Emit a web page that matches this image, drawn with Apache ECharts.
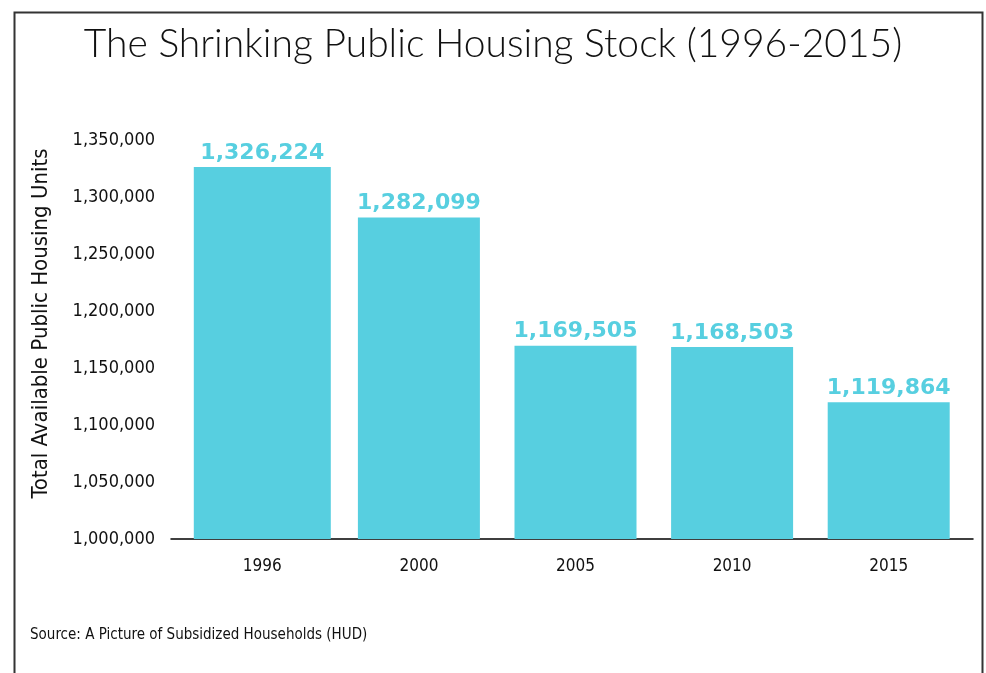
<!DOCTYPE html>
<html>
<head>
<meta charset="utf-8">
<script src="https://cdn.jsdelivr.net/npm/echarts@6/dist/echarts.min.js"></script>
<style>
html,body{margin:0;padding:0;background:#fff;}
#c{width:986px;height:673px;}
</style>
</head>
<body>
<div id="c"></div>
<script>
var categories = ['1996', '2000', '2005', '2010', '2015'];
var units = [1326224, 1282099, 1169505, 1168503, 1119864];
var yTicks = { min: 1000000, max: 1350000, interval: 50000 };
var titleText = 'The Shrinking Public Housing Stock (1996-2015)';
var yName = 'Total Available Public Housing Units';
var sourceText = 'Source: A Picture of Subsidized Households (HUD)';

var narrow = '"Liberation Sans Narrow", "DejaVu Sans Condensed", "Roboto", sans-serif';
var barColor = '#57cfe0';

function fmt(v) { return v.toString().replace(/\B(?=(\d{3})+(?!\d))/g, ','); }

var firstData = units.map(function (v, i) { return i === 0 ? v : '-'; });
var restData = units.map(function (v, i) { return i === 0 ? '-' : v; });

var labelCfg = {
  show: true, position: 'top', distance: 3,
  color: barColor, fontFamily: '"DejaVu Sans", sans-serif', fontWeight: 900, fontSize: 22,
  formatter: function (p) { return fmt(p.value); }
};

var chart = echarts.init(document.getElementById('c'), null, { renderer: 'canvas' });
chart.setOption({
  animation: false,
  backgroundColor: '#fff',
  title: {
    text: titleText, left: 'center', top: 20,
    textStyle: { fontFamily: 'Lato, "Noto Sans", sans-serif', fontWeight: 300, fontSize: 39, color: '#111' }
  },
  graphic: [
    { type: 'rect', left: 12, top: 10, shape: { width: 968, height: 700 }, style: { fill: 'none', stroke: '#333', lineWidth: 2 }, silent: true },
    { type: 'text', left: 30, top: 628, style: { text: sourceText, font: '15px ' + narrow, fill: '#111' } }
  ],
  grid: [
    { left: 184, right: 19, top: 140, bottom: 134 },
    { left: 171, right: 13, top: 140, bottom: 134 }
  ],
  xAxis: [
    {
      type: 'category', data: categories, gridIndex: 0,
      axisLine: { show: false }, axisTick: { show: false },
      axisLabel: { margin: 19, fontFamily: narrow, fontSize: 17, color: '#111' }
    },
    {
      type: 'category', data: categories, gridIndex: 0, position: 'bottom', show: false
    },
    {
      type: 'value', gridIndex: 1, min: 0, max: 1,
      axisLine: { show: true, lineStyle: { color: '#000', width: 1.5 } },
      axisTick: { show: false }, axisLabel: { show: false }, splitLine: { show: false }
    }
  ],
  yAxis: [
    {
      type: 'value', gridIndex: 0, min: yTicks.min, max: yTicks.max, interval: yTicks.interval,
      name: yName, nameLocation: 'middle', nameGap: 132, nameRotate: 90,
      nameTextStyle: { fontFamily: narrow, fontSize: 22, color: '#111', padding: [0, 0, 0, 32] },
      axisLine: { show: false }, axisTick: { show: false }, splitLine: { show: false },
      axisLabel: { margin: 29, fontFamily: narrow, fontSize: 18, color: '#111', padding: [0, 0, 6, 0],
        formatter: function (v) { return fmt(v); } }
    },
    { type: 'value', gridIndex: 1, show: false, min: 0, max: 1 }
  ],
  series: [
    {
      type: 'bar', xAxisIndex: 1, yAxisIndex: 0, data: firstData, barWidth: 137,
      itemStyle: { color: barColor }, label: labelCfg
    },
    {
      type: 'bar', xAxisIndex: 0, yAxisIndex: 0, data: restData, barWidth: 122,
      itemStyle: { color: barColor }, label: labelCfg
    }
  ]
});
</script>
</body>
</html>
